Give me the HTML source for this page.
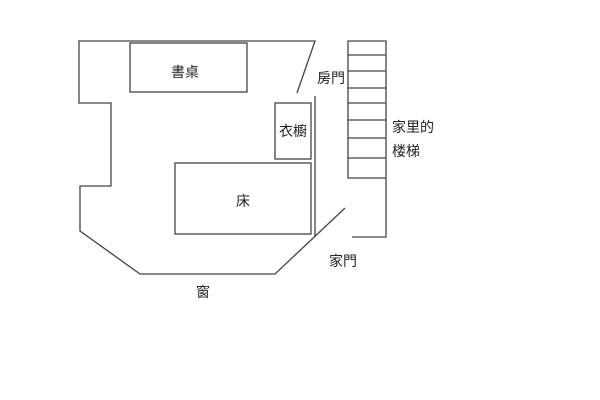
<!DOCTYPE html>
<html><head><meta charset="utf-8"><style>
html,body{margin:0;padding:0;background:#fff;width:600px;height:400px;overflow:hidden}
svg text{font-family:"Liberation Sans","Noto Sans CJK TC",sans-serif;font-size:14px;fill:#222}
</style></head><body>
<svg width="600" height="400" viewBox="0 0 600 400" xmlns="http://www.w3.org/2000/svg">
<g fill="none" stroke="#444" stroke-width="1.3">
<polyline points="297,93 315,41 79,41 79,103 111,103 111,186 80,186 80,231 140,274 275,274 345,208"/>
<line x1="315" y1="96" x2="315" y2="237"/>
<rect x="130" y="43" width="117" height="49"/>
<rect x="275" y="103" width="36" height="56"/>
<rect x="175" y="163" width="136" height="71"/>
<polyline points="386,178 348,178 348,41 386,41 386,237 352,237"/>
<line x1="348" y1="55" x2="386" y2="55"/>
<line x1="348" y1="71" x2="386" y2="71"/>
<line x1="348" y1="88" x2="386" y2="88"/>
<line x1="348" y1="103" x2="386" y2="103"/>
<line x1="348" y1="120" x2="386" y2="120"/>
<line x1="348" y1="138" x2="386" y2="138"/>
<line x1="348" y1="158" x2="386" y2="158"/>
</g>
<text x="171" y="77">書桌</text>
<text x="279" y="136">衣櫥</text>
<text x="236" y="206">床</text>
<text x="317" y="83">房門</text>
<text x="392" y="132">家里的</text>
<text x="392" y="156">楼梯</text>
<text x="329" y="266">家門</text>
<text x="196" y="297">窗</text>
</svg>
</body></html>
